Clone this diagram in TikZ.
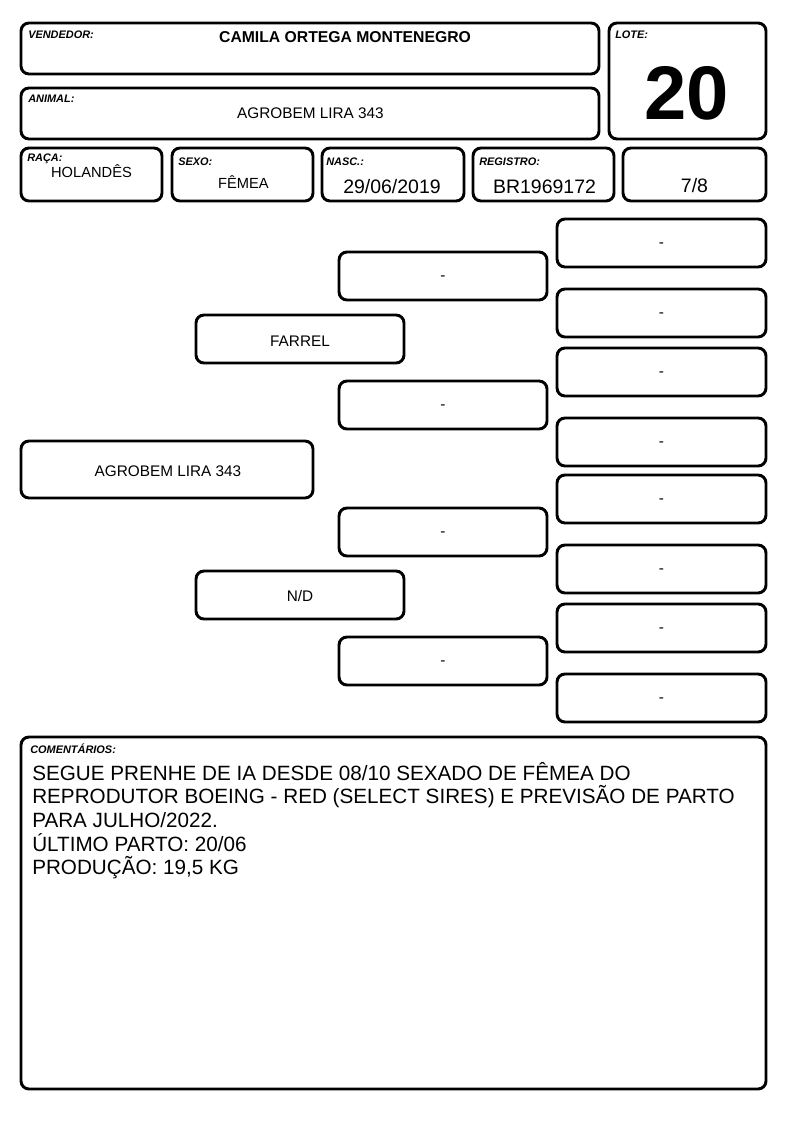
\documentclass[tikz,border=0pt]{standalone}
\usepackage{fontspec}
\setmainfont{Liberation Sans}
\begin{document}
\begin{tikzpicture}[x=0.75pt,y=-0.75pt,
  box/.style={draw, line width=2.2pt, rounded corners=6pt, inner sep=0pt, outer sep=0pt},
  hdr/.style={box, minimum width=433.5pt, minimum height=38.25pt},
  rowbox/.style={box, minimum height=39.75pt},
  pedA/.style={box, minimum width=156pt, minimum height=36pt},
  pedB/.style={box, minimum width=156.75pt, minimum height=36pt},
  lbl/.style={anchor=base west, inner sep=0pt, font=\fontsize{8.2pt}{9pt}\selectfont\bfseries\itshape},
  val/.style={anchor=base, inner sep=0pt, font=\fontsize{11.5pt}{13pt}\selectfont},
  valbig/.style={anchor=base, inner sep=0pt, font=\fontsize{14.6pt}{16pt}\selectfont},
  nil/.style={inner sep=0pt, font=\fontsize{11.5pt}{13pt}\selectfont}
]
\useasboundingbox (0,0) rectangle (794,1123);

% header
\node[hdr] (vend) at (310,48.5) {};
\node[hdr] (anim) at (310,113.5) {};
\node[box, minimum width=117.75pt, minimum height=87pt] (lote) at (687.5,81) {};
\node[lbl] (vendl) at (28,39) {VENDEDOR:};
\node[anchor=base, inner sep=0pt, font=\fontsize{11.8pt}{13pt}\selectfont\bfseries] (vendv) at (345,43) {CAMILA ORTEGA MONTENEGRO};
\node[lbl] (animl) at (28,103) {ANIMAL:};
\node[val] (animv) at (310.5,119) {AGROBEM LIRA 343};
\node[lbl] (lotel) at (615,39) {LOTE:};
\node[anchor=base, inner sep=0pt, font=\fontsize{57pt}{60pt}\selectfont\bfseries] (lotev) at (687,120) {20};

% row
\node[rowbox, minimum width=105.75pt] (raca) at (91.5,174.5) {};
\node[rowbox, minimum width=105.75pt] (sexo) at (242.5,174.5) {};
\node[rowbox, minimum width=106.5pt] (nasc) at (393,174.5) {};
\node[rowbox, minimum width=105.75pt] (reg) at (543.5,174.5) {};
\node[rowbox, minimum width=107.25pt] (frac) at (694.5,174.5) {};
\node[lbl] (racal) at (27,162) {RAÇA:};
\node[lbl] (sexol) at (178,165.5) {SEXO:};
\node[lbl] (nascl) at (326,165.5) {NASC.:};
\node[lbl] (regl) at (479,165.5) {REGISTRO:};
\node[val, font=\fontsize{11pt}{13pt}\selectfont] (racav) at (91.5,178) {HOLANDÊS};
\node[val, font=\fontsize{11pt}{13pt}\selectfont] (sexov) at (243.5,189) {FÊMEA};
\node[valbig] (nascv) at (392,194) {29/06/2019};
\node[valbig] (regv) at (544.5,194) {BR1969172};
\node[valbig] (fracv) at (694.5,193) {7/8};

% pedigree
\node[box, minimum width=219pt, minimum height=42.75pt] (p1) at (167,469.5) {};
\node[val] (p1v) at (168,476) {AGROBEM LIRA 343};
\node[pedA] (p2a) at (300,339) {};
\node[val] (p2av) at (300,346) {FARREL};
\node[pedA] (p2b) at (300,595) {};
\node[val] (p2bv) at (300,601) {N/D};

\foreach \y [count=\i] in {276,405,532,661}{
  \node[pedA] (p3\i) at (443,\y) {};
  \node[nil] (p3\i t) at ([yshift=-1.5pt]p3\i.center) {-};
}
\foreach \y [count=\i] in {243,313,372,442,499,569,628,698}{
  \node[pedB] (p4\i) at (661.5,\y) {};
  \node[nil] (p4\i t) at ([yshift=-1.5pt]p4\i.center) {-};
}

% comments
\node[box, minimum width=558.75pt, minimum height=264pt] (com) at (393.5,913) {};
\node[lbl] (coml) at (30,753) {COMENTÁRIOS:};
\node[anchor=base west, inner sep=0pt, font=\fontsize{15.5pt}{17.8pt}\selectfont] (comv) at (32,780)
 {\parbox[t]{560pt}{\raggedright SEGUE PRENHE DE IA DESDE 08/10 SEXADO DE FÊMEA DO\\
 REPRODUTOR BOEING - RED (SELECT SIRES) E PREVISÃO DE PARTO\\
 PARA JULHO/2022.\\
 ÚLTIMO PARTO: 20/06\\
 PRODUÇÃO: 19,5 KG}};
\end{tikzpicture}
\end{document}
